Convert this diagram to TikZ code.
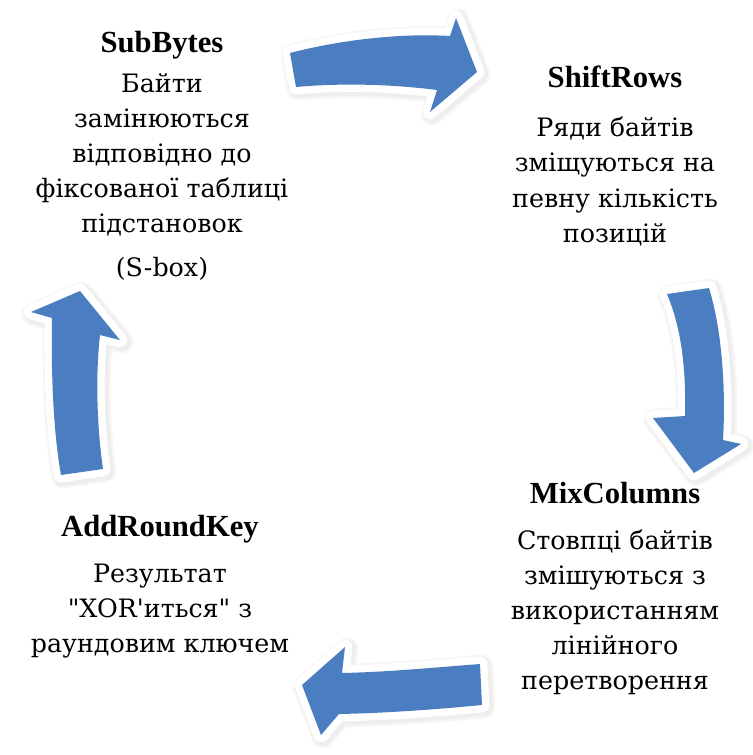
\documentclass[tikz,border=0pt]{standalone}
\usepackage{fontspec}
% plain families without the TeX quote mapping, so " and ' stay straight
\newfontfamily\titlefont{Liberation Serif}[BoldFont={Liberation Serif Bold}]
\newfontfamily\descfont{DejaVu Serif}
\definecolor{cycleblue}{RGB}{74,126,192}
\definecolor{glowtone}{RGB}{150,140,120}
\newcommand{\steptitle}[1]{{\titlefont\bfseries\fontsize{23}{26.3}\selectfont #1}}
\begin{document}
\begin{tikzpicture}[x=0.75pt,y=-0.75pt,
  arrowbody/.style={fill=cycleblue, draw=none},
  arrowrim/.style={draw=white, fill=white, line width=11pt, line join=round},
  arrowglow/.style={draw=glowtone, fill=glowtone, line width=#1, line join=round, opacity=0.07},
  block/.style={align=center, inner sep=0pt, anchor=north,
    font=\descfont\fontsize{19}{26.3}\selectfont}]
\useasboundingbox[fill=white] (0,0) rectangle (752,755);

% curved arrow outlines, tail first, running clockwise round each shape
\def\toparrow{(290,53) .. controls (340,40) and (400,33) .. (450,36) -- (456,18) -- (477,72)
  -- (430,112) -- (437,90) .. controls (390,84) and (340,83) .. (296,87) -- cycle}
\def\rightarrow{(667,294) -- (709,288) .. controls (722,330) and (726,390) .. (723,440)
  -- (741,444) -- (694,473) -- (653,418) -- (685,416) .. controls (686,370) and (682,330) .. (667,294) -- cycle}
\def\bottomarrow{(480,664) .. controls (440,667) and (390,672) .. (342,673) -- (345,647)
  -- (302,685) -- (321,735) -- (339,714) .. controls (390,713) and (440,709) .. (482,705) -- cycle}
\def\leftarrow{(61,475) .. controls (53,430) and (51,370) .. (52,318) -- (31,312) -- (80,291)
  -- (120,340) -- (100,335) .. controls (96,370) and (96,420) .. (103,469) -- cycle}

\foreach \shape in {\toparrow,\rightarrow,\bottomarrow,\leftarrow}{
  \begin{scope}[shift={(2,2)}]
    \path[arrowglow=17pt] \shape;
    \path[arrowglow=14pt] \shape;
  \end{scope}
  \path[arrowrim] \shape;
  \path[arrowbody] \shape;
}

% step descriptions
\node[block] (subbytes) at (162,31)
  {\steptitle{SubBytes}\\[3.75pt]
   Байти\\ замінюються\\ відповідно до\\ фіксованої таблиці\\ підстановок\\[6.75pt] (S-box)};
\node[block] (shiftrows) at (615,66)
  {\steptitle{ShiftRows}\\[10.5pt]
   Ряди байтів\\ зміщуються на\\ певну кількість\\ позицій};
\node[block] (mixcolumns) at (615,482)
  {\steptitle{MixColumns}\\[8.25pt]
   Стовпці байтів\\ змішуються з\\ використанням\\ лінійного\\ перетворення};
\node[block] (addroundkey) at (160,515)
  {\steptitle{AddRoundKey}\\[8.25pt]
   Результат\\ "XOR'иться" з\\ раундовим ключем};
\end{tikzpicture}
\end{document}
